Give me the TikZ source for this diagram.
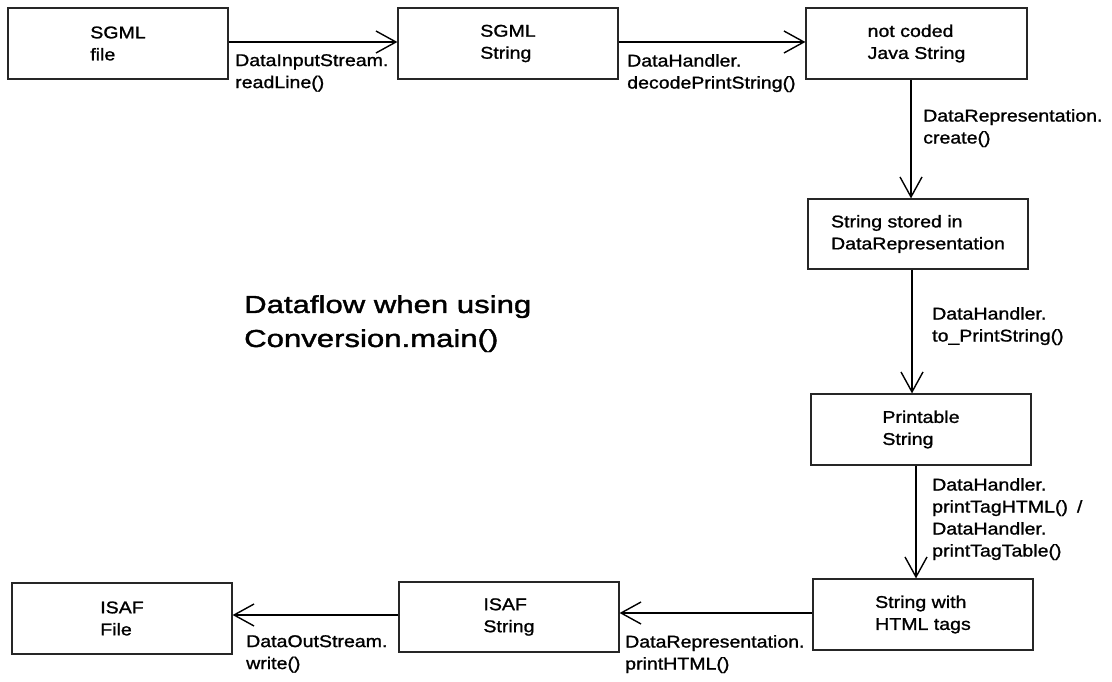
\documentclass[tikz,border=0pt]{standalone}
\usepackage{fontspec}
\usetikzlibrary{arrows.meta}
\newfontfamily\lblfont[FakeStretch=1.15,FakeBold=1.2]{Liberation Sans}
\newfontfamily\ttlfont[FakeStretch=1.27,FakeBold=1.6]{Liberation Sans}
\begin{document}
\begin{tikzpicture}[x=1pt,y=-1pt,
  box/.style={draw=black!85, line width=1.2pt, minimum width=220pt, minimum height=71pt,
    inner sep=0pt, align=left, font=\lblfont\fontsize{17}{22}\selectfont},
  lbl/.style={anchor=north west, inner sep=0pt, align=left,
    font=\lblfont\fontsize{17}{22}\selectfont},
  flow/.style={line width=1.8pt, -{Straight Barb[length=20pt,width=22pt,line width=1.4pt]}}]
\useasboundingbox (0,0) rectangle (1112,682);
\fill[white] (0,0) rectangle (1112,682);

% processing stages
\node[box] (sgmlfile) at (118,43.5) {SGML\\file};
\node[box] (sgmlstr)  at (508,43.5) {SGML\\String};
\node[box, minimum width=221pt] (javastr) at (916.5,43.5) {not coded\\Java String};
\node[box, minimum height=70pt] (stored) at (918,234) {String stored in\\DataRepresentation};
\node[box] (printable) at (921,429.5) {Printable\\String};
\node[box] (htmlstr) at (923,614.5) {String with\\HTML tags};
\node[box, minimum height=70pt] (isafstr) at (509,617) {ISAF\\String};
\node[box] (isaffile) at (122,618.5) {ISAF\\File};

% conversions between stages
\draw[flow] ([yshift=1.5pt]sgmlfile.east) -- ([yshift=1.5pt]sgmlfile.east -| sgmlstr.west);
\draw[flow] ([yshift=1.5pt]sgmlstr.east) -- ([yshift=1.5pt]sgmlstr.east -| javastr.west);
\draw[flow] ([xshift=-5.5pt]javastr.south) -- ([xshift=-5.5pt]javastr.south |- stored.north);
\draw[flow] ([xshift=-6pt]stored.south) -- ([xshift=-6pt]stored.south |- printable.north);
\draw[flow] ([xshift=-5pt]printable.south) -- ([xshift=-5pt]printable.south |- htmlstr.north);
\draw[flow] ([yshift=1.5pt]htmlstr.west) -- ([yshift=1.5pt]htmlstr.west -| isafstr.east);
\draw[flow] ([yshift=2pt]isafstr.west) -- ([yshift=2pt]isafstr.west -| isaffile.east);

% method labels
\node[lbl] (m1) at (235,54) {DataInputStream.\\readLine()};
\node[lbl] (m2) at (627,54) {DataHandler.\\decodePrintString()};
\node[lbl] (m3) at (923,109) {DataRepresentation.\\create()};
\node[lbl] (m4) at (932,307) {DataHandler.\\to\_PrintString()};
\node[lbl] (m5) at (932,478) {DataHandler.\\printTagHTML()\hspace{9pt}/\\DataHandler.\\printTagTable()};
\node[lbl] (m6) at (625,635) {DataRepresentation.\\printHTML()};
\node[lbl] (m7) at (246,635) {DataOutStream.\\write()};

% heading
\node[anchor=north west, inner sep=0pt, align=left,
  font=\ttlfont\fontsize{24.5}{34}\selectfont] (title) at (244,295)
  {Dataflow when using\\Conversion.main()};
\end{tikzpicture}
\end{document}
